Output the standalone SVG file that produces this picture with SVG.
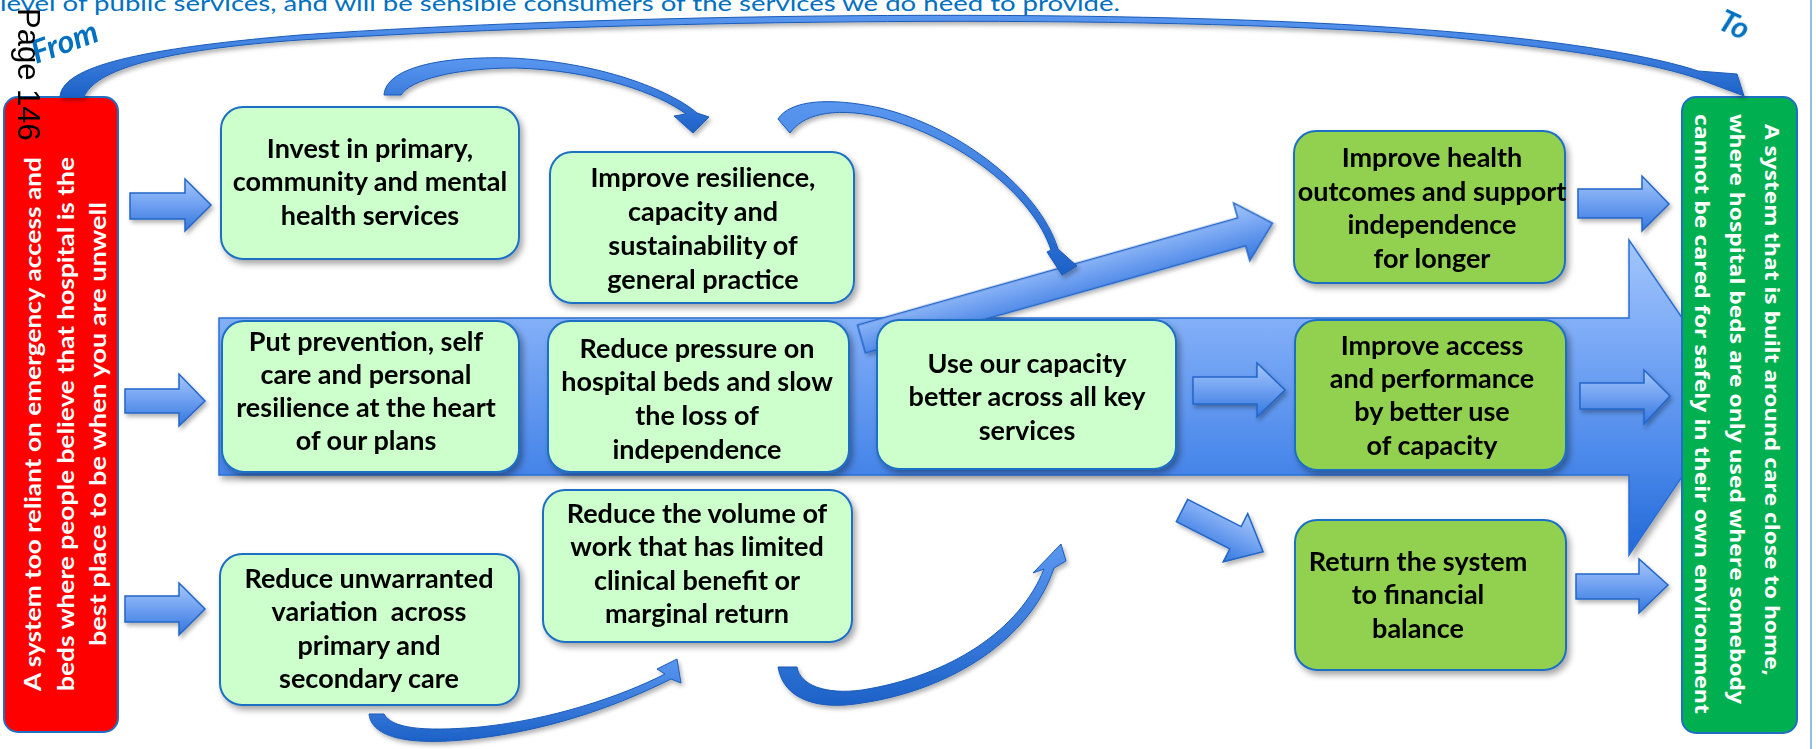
<svg xmlns="http://www.w3.org/2000/svg" width="1816" height="749" viewBox="0 0 1816 749">
  <defs>
    <style>
      .node rect { fill: #CCFFCC; stroke: #1F6FC4; stroke-width: 2; }
      .goal rect { fill: #92D050; stroke: #1F6FC4; stroke-width: 2; }
      .nt { font-family: Lato, "Liberation Sans", sans-serif; font-weight: 700; font-size: 27px; fill: #000; text-anchor: middle; }
      .side { font-family: Lato, "Liberation Sans", sans-serif; font-weight: 700; font-size: 23px; fill: #fff; text-anchor: middle; }
      .side2 { font-family: "Open Sans", "Noto Sans", sans-serif; font-weight: 700; font-size: 20px; fill: #fff; }
      .blk { fill: url(#blkGrad); stroke: #2266C8; stroke-width: 1.5; }
      .crv { fill: url(#crvGrad); stroke: #1A5BB8; stroke-width: 1; }
      .lbl { font-family: Lato, "Liberation Sans", sans-serif; font-weight: 700; font-style: italic; fill: #0070C0; }
    </style>
    <linearGradient id="bandGrad" gradientUnits="userSpaceOnUse" x1="0" y1="240" x2="0" y2="555">
      <stop offset="0" stop-color="#A3C6FC"/>
      <stop offset="0.3" stop-color="#7DABF6"/>
      <stop offset="0.7" stop-color="#4A88EA"/>
      <stop offset="1" stop-color="#2268D8"/>
    </linearGradient>
    <linearGradient id="blkGrad" x1="0" y1="0" x2="0" y2="1">
      <stop offset="0" stop-color="#A6C8FA"/>
      <stop offset="0.5" stop-color="#6E9FF0"/>
      <stop offset="1" stop-color="#3478DE"/>
    </linearGradient>
    <linearGradient id="crvGrad" x1="0" y1="0" x2="0" y2="1">
      <stop offset="0" stop-color="#5A97F0"/>
      <stop offset="1" stop-color="#1D62C8"/>
    </linearGradient>
    <filter id="shadow" x="-10%" y="-10%" width="130%" height="130%">
      <feDropShadow dx="3" dy="4" stdDeviation="3" flood-color="#000" flood-opacity="0.35"/>
    </filter>
    <filter id="shadowS" x="-10%" y="-30%" width="130%" height="180%">
      <feDropShadow dx="2" dy="3" stdDeviation="2" flood-color="#000" flood-opacity="0.3"/>
    </filter>
  </defs>

  <!-- heading fragment carried over from the page above -->
  <text x="0" y="11" font-family="Lato, 'Liberation Sans', sans-serif" font-size="22" fill="#0070C0" textLength="1120" lengthAdjust="spacingAndGlyphs">level of public services, and will be sensible consumers of the services we do need to provide.</text>

  <!-- page frame edge -->
  <line x1="1811" y1="0" x2="1811" y2="749" stroke="#9BBBE0" stroke-width="2"/>

  <g id="connectors">
    <!-- main direction band -->
    <path id="band" d="M219 318 H1629 V240 L1736 397 L1629 555 V475 H219 Z" fill="url(#bandGrad)" stroke="#2A6FD3" stroke-width="1.5" filter="url(#shadow)"/>
    <!-- branch up towards health outcomes -->
    <path class="blk" filter="url(#shadowS)" transform="translate(861.5 339) rotate(-15.74)" d="M0 -14.5 H395 V-30 L427 0 L395 30 V14.5 H0 Z"/>
  </g>

  <!-- red starting point -->
  <g id="from-state">
    <rect x="4" y="97" width="114" height="635" rx="14" fill="#FF0000" stroke="#1F6FC4" stroke-width="2"/>
    <g transform="translate(0 424) rotate(-90)">
      <text class="side" x="0" y="41" textLength="534" lengthAdjust="spacingAndGlyphs">A system too reliant on emergency access and</text>
      <text class="side" x="0" y="74" textLength="534" lengthAdjust="spacingAndGlyphs">beds where people believe that hospital is the</text>
      <text class="side" x="0" y="106" textLength="444" lengthAdjust="spacingAndGlyphs">best place to be when you are unwell</text>
    </g>
  </g>

  <!-- green end point -->
  <g id="to-state">
    <rect x="1682" y="97" width="115" height="636" rx="14" fill="#00B050" stroke="#1F6FC4" stroke-width="2"/>
    <g transform="rotate(90)">
      <text class="side2" x="124" y="-1765" textLength="552" lengthAdjust="spacingAndGlyphs">A system that is built around care close to home,</text>
      <text class="side2" x="114" y="-1730" textLength="590" lengthAdjust="spacingAndGlyphs">where hospital beds are only used where somebody</text>
      <text class="side2" x="114" y="-1695" textLength="600" lengthAdjust="spacingAndGlyphs">cannot be cared for safely in their own environment</text>
    </g>
  </g>

  <g id="invest-primary" class="node" filter="url(#shadow)">
    <rect x="221" y="107" width="298" height="152" rx="22"/>
    <text class="nt" x="370" y="158">Invest in primary,</text>
    <text class="nt" x="370" y="191">community and mental</text>
    <text class="nt" x="370" y="225">health services</text>
  </g>

  <g id="general-practice" class="node" filter="url(#shadow)">
    <rect x="550" y="152" width="304" height="151" rx="22"/>
    <text class="nt" x="703" y="187">Improve resilience,</text>
    <text class="nt" x="703" y="221">capacity and</text>
    <text class="nt" x="703" y="255">sustainability of</text>
    <text class="nt" x="703" y="289">general practice</text>
  </g>

  <g id="prevention" class="node" filter="url(#shadow)">
    <rect x="222" y="321" width="297" height="151" rx="22"/>
    <text class="nt" x="366" y="351">Put prevention, self</text>
    <text class="nt" x="366" y="384">care and personal</text>
    <text class="nt" x="366" y="417">resilience at the heart</text>
    <text class="nt" x="366" y="450">of our plans</text>
  </g>

  <g id="hospital-beds" class="node" filter="url(#shadow)">
    <rect x="548" y="321" width="301" height="151" rx="22"/>
    <text class="nt" x="697" y="358">Reduce pressure on</text>
    <text class="nt" x="697" y="391">hospital beds and slow</text>
    <text class="nt" x="697" y="425">the loss of</text>
    <text class="nt" x="697" y="459">independence</text>
  </g>

  <g id="capacity" class="node" filter="url(#shadow)">
    <rect x="877" y="320" width="299" height="149" rx="22"/>
    <text class="nt" x="1027" y="373">Use our capacity</text>
    <text class="nt" x="1027" y="406">better across all key</text>
    <text class="nt" x="1027" y="440">services</text>
  </g>

  <g id="variation" class="node" filter="url(#shadow)">
    <rect x="220" y="554" width="299" height="151" rx="22"/>
    <text class="nt" x="369" y="588">Reduce unwarranted</text>
    <text class="nt" x="369" y="621" xml:space="preserve">variation  across</text>
    <text class="nt" x="369" y="655">primary and</text>
    <text class="nt" x="369" y="688">secondary care</text>
  </g>

  <g id="low-value-work" class="node" filter="url(#shadow)">
    <rect x="543" y="490" width="309" height="152" rx="22"/>
    <text class="nt" x="697" y="523">Reduce the volume of</text>
    <text class="nt" x="697" y="556">work that has limited</text>
    <text class="nt" x="697" y="590">clinical benefit or</text>
    <text class="nt" x="697" y="623">marginal return</text>
  </g>

  <g id="health-outcomes" class="goal" filter="url(#shadow)">
    <rect x="1294" y="131" width="271" height="152" rx="22"/>
    <text class="nt" x="1432" y="167">Improve health</text>
    <text class="nt" x="1432" y="201">outcomes and support</text>
    <text class="nt" x="1432" y="234">independence</text>
    <text class="nt" x="1432" y="268">for longer</text>
  </g>

  <g id="access-performance" class="goal" filter="url(#shadow)">
    <rect x="1295" y="320" width="271" height="150" rx="22"/>
    <text class="nt" x="1432" y="355">Improve access</text>
    <text class="nt" x="1432" y="388">and performance</text>
    <text class="nt" x="1432" y="421">by better use</text>
    <text class="nt" x="1432" y="455">of capacity</text>
  </g>

  <g id="financial-balance" class="goal" filter="url(#shadow)">
    <rect x="1295" y="520" width="271" height="150" rx="22"/>
    <text class="nt" x="1418" y="571">Return the system</text>
    <text class="nt" x="1418" y="604">to financial</text>
    <text class="nt" x="1418" y="638">balance</text>
  </g>

  <g id="block-arrows" filter="url(#shadowS)">
    <!-- from the starting point into the three themes -->
    <path class="blk" d="M130 193 H185 V179 L211 205 L185 231 V219 H130 Z"/>
    <path class="blk" d="M125 389 H179 V374 L205 401 L179 426 V413 H125 Z"/>
    <path class="blk" d="M125 596 H179 V583 L205 609 L179 635 V622 H125 Z"/>
    <!-- capacity into the middle outcome -->
    <path class="blk" d="M1193 377 H1257 V363 L1285 390 L1257 417 V404 H1193 Z"/>
    <!-- branch down towards financial balance -->
    <path class="blk" transform="translate(1182 510.5) rotate(27)" d="M0 -12.5 H60 V-27 L91 0 L60 27 V12.5 H0 Z"/>
    <!-- outcomes into the end point -->
    <path class="blk" d="M1578 189 H1642 V176 L1669 204 L1642 231 V218 H1578 Z"/>
    <path class="blk" d="M1580 383 H1644 V370 L1670 396 L1644 424 V409 H1580 Z"/>
    <path class="blk" d="M1576 574 H1639 V559 L1668 585 L1639 613 V599 H1576 Z"/>
  </g>

  <g id="curved-arrows" filter="url(#shadowS)">
    <!-- long arc from the starting point to the end point -->
    <path class="crv" d="M60 97 C62 70 120 50 300 35 C600 14 1100 7 1400 28 C1550 38 1650 55 1698 71 L1737 74 L1744 96 L1699 79 C1650 62 1550 45 1400 33 C1100 13 600 21 300 40 C160 50 95 70 84 97 Z"/>
    <!-- primary care into general practice -->
    <path class="crv" d="M384 95 C386 68 440 56 510 58 C600 62 670 90 697 113 L709 117 L693 133 L674 116 L686 114 C660 94 595 70 515 68 C455 68 410 80 401 95 Z"/>
    <!-- general practice onto the upward branch -->
    <path class="crv" d="M778 119 C790 100 830 97 880 108 C960 127 1040 190 1058 249 L1077 266 L1062 275 L1047 252 L1051 250 C1033 195 960 138 880 117 C830 106 802 116 790 133 Z"/>
    <!-- variation into low value work -->
    <path class="crv" d="M369 714 C372 741 420 746 480 738 C560 728 625 702 671 679 L681 683 L677 659 L657 669 L665 674 C620 697 550 720 480 727 C420 732 392 728 384 714 Z"/>
    <!-- low value work up towards capacity -->
    <path class="crv" d="M778 667 C784 702 822 710 862 703 C950 690 1030 640 1054 568 L1066 561 L1061 544 L1033 573 L1044 569 C1020 630 950 676 862 690 C825 695 800 685 797 667 Z"/>
  </g>

  <!-- arc end labels -->
  <text class="lbl" font-size="32" transform="translate(36 64) rotate(-20)">From</text>
  <text class="lbl" font-size="31" transform="translate(1716 28) rotate(25)">To</text>

  <!-- page number -->
  <text transform="translate(18 8) rotate(90)" font-family="'Liberation Sans', Arial, sans-serif" font-size="31" fill="#000">Page 146</text>
</svg>
